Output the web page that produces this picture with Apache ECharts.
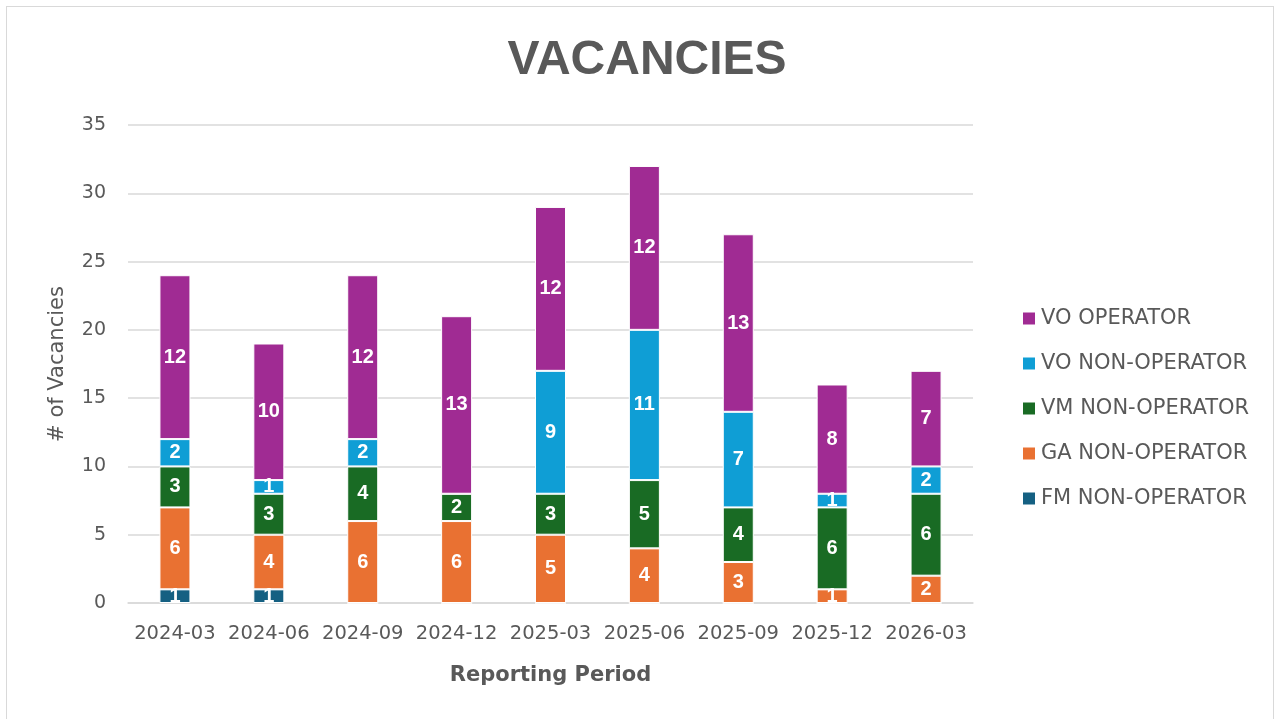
<!DOCTYPE html>
<html>
<head>
<meta charset="utf-8">
<script src="https://cdn.jsdelivr.net/npm/echarts@6/dist/echarts.min.js"></script>
<style>
  html, body { margin: 0; padding: 0; background: #fff; }
  #frame { position: absolute; left: 6px; top: 6px; width: 1268px; height: 716px; border: 1px solid #d9d9d9; box-sizing: border-box; }
  #chart { position: absolute; left: 0; top: 0; width: 1276px; height: 719px; }
</style>
</head>
<body>
<div id="frame"></div>
<div id="chart"></div>
<script>
// 資料
var periods = ["2024-03", "2024-06", "2024-09", "2024-12", "2025-03", "2025-06", "2025-09", "2025-12", "2026-03"];
var fmNonOp = [1, 1, 0, 0, 0, 0, 0, 0, 0];
var gaNonOp = [6, 4, 6, 6, 5, 4, 3, 1, 2];
var vmNonOp = [3, 3, 4, 2, 3, 5, 4, 6, 6];
var voNonOp = [2, 1, 2, 0, 9, 11, 7, 1, 2];
var voOp = [12, 10, 12, 13, 12, 12, 13, 8, 7];
var yTicks = { min: 0, max: 35, interval: 5 };

var FONT = "'DejaVu Sans', sans-serif";
var BOLD_FONT = "'Liberation Sans', Arial, sans-serif";
var TEXT = "#595959";

function seg(name, data, color) {
  return {
    name: name, type: "bar", stack: "total", data: data, barWidth: 31,
    itemStyle: { color: color, borderColor: "#fff", borderWidth: 1 },
    label: {
      show: true, position: "inside", color: "#fff", fontSize: 20, fontWeight: "bold", fontFamily: BOLD_FONT,
      formatter: function (p) { return p.value ? p.value : ""; }
    }
  };
}

var chart = echarts.init(document.getElementById("chart"), null, { renderer: "canvas" });
chart.setOption({
  animation: false,
  title: {
    text: "VACANCIES", left: 642, top: 32, textAlign: "center",
    textStyle: { fontSize: 48, fontWeight: "bold", color: TEXT, fontFamily: BOLD_FONT }
  },
  grid: { left: 128, right: 303, top: 125, bottom: 116 },
  legend: {
    orient: "vertical", left: 1016, top: 303, itemGap: 24, itemWidth: 14, itemHeight: 14,
    icon: "rect",
    textStyle: { fontSize: 21, color: TEXT, fontFamily: FONT },
    data: ["VO OPERATOR", "VO NON-OPERATOR", "VM NON-OPERATOR", "GA NON-OPERATOR", "FM NON-OPERATOR"]
  },
  xAxis: {
    type: "category", data: periods,
    name: "Reporting Period", nameLocation: "middle", nameGap: 62,
    nameTextStyle: { fontSize: 21, fontWeight: "bold", color: TEXT, fontFamily: FONT },
    axisLine: { lineStyle: { color: "#d9d9d9", width: 1.5 } },
    axisTick: { show: false },
    axisLabel: { interval: 0, fontSize: 19.5, color: TEXT, fontFamily: FONT, margin: 21 }
  },
  yAxis: {
    type: "value", min: yTicks.min, max: yTicks.max, interval: yTicks.interval,
    name: "# of Vacancies", nameLocation: "middle", nameGap: 60,
    nameTextStyle: { fontSize: 21, color: TEXT, fontFamily: FONT },
    axisLine: { show: false }, axisTick: { show: false },
    axisLabel: { fontSize: 19, color: TEXT, fontFamily: FONT, margin: 22 },
    splitLine: { lineStyle: { color: "#d9d9d9", width: 1.5 } }
  },
  series: [
    seg("FM NON-OPERATOR", fmNonOp, "#156082"),
    seg("GA NON-OPERATOR", gaNonOp, "#E97132"),
    seg("VM NON-OPERATOR", vmNonOp, "#196B24"),
    seg("VO NON-OPERATOR", voNonOp, "#0F9ED5"),
    seg("VO OPERATOR", voOp, "#A02B93")
  ]
});
</script>
</body>
</html>
